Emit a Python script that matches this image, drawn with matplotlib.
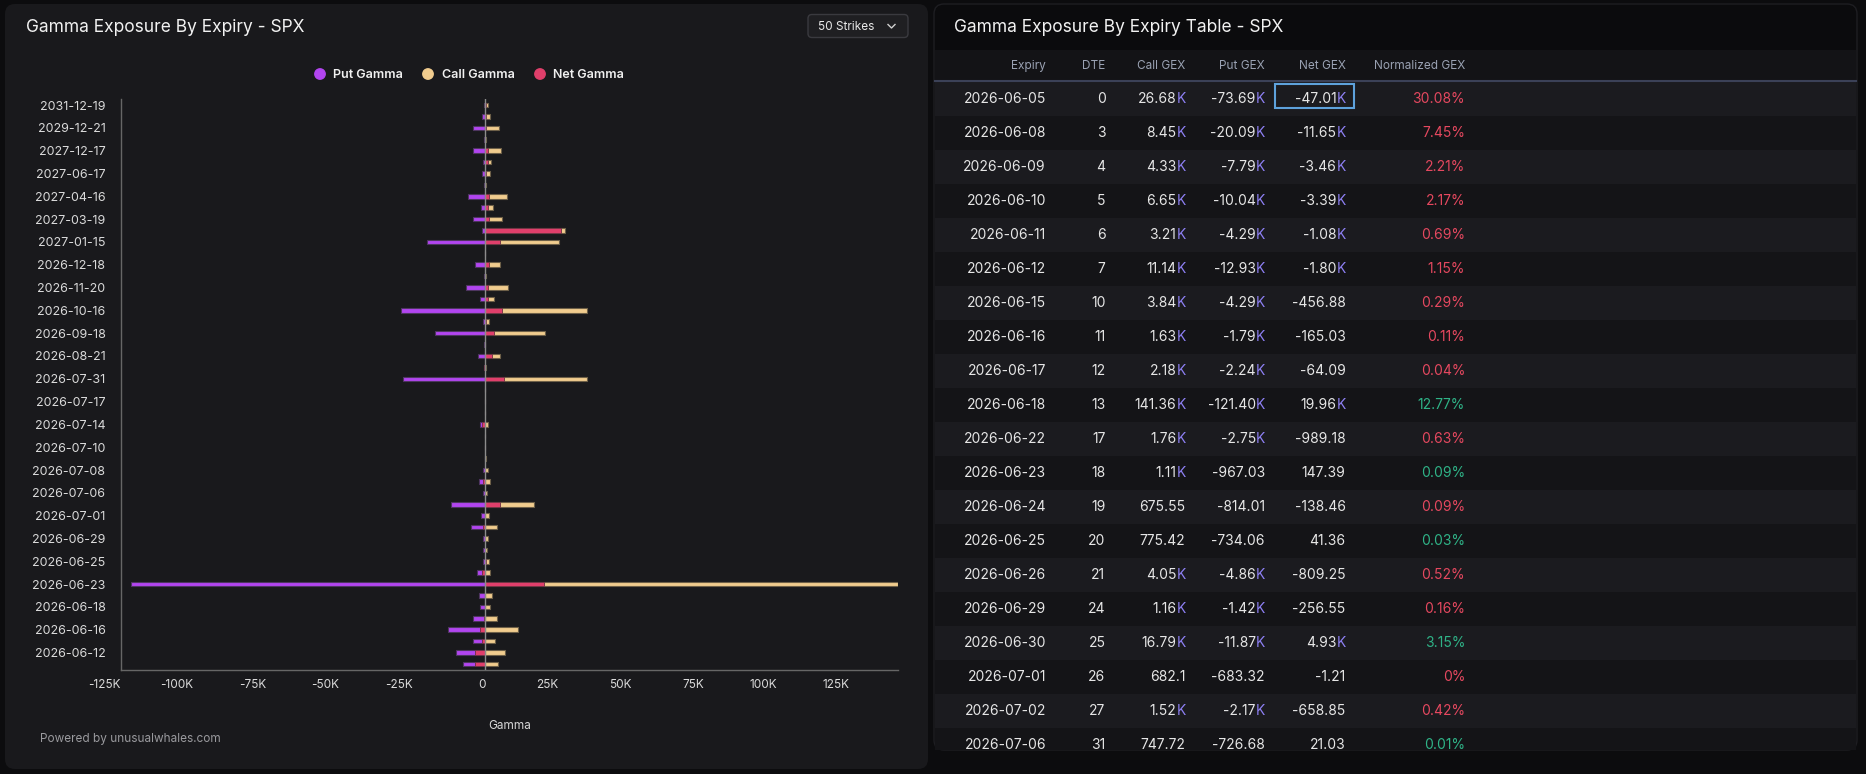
import numpy as np
import matplotlib
matplotlib.use('Agg')
import matplotlib.pyplot as plt
from matplotlib.patches import FancyBboxPatch, Circle, Rectangle
from matplotlib.ticker import FuncFormatter

plt.rcParams['font.family'] = ['Inter', 'DejaVu Sans']

# Chart data (bottom row first), values in K
expiries = ['2026-06-11', '2026-06-12', '2026-06-15', '2026-06-16', '2026-06-17',
            '2026-06-18', '2026-06-22', '2026-06-23', '2026-06-24', '2026-06-25',
            '2026-06-26', '2026-06-29', '2026-06-30', '2026-07-01', '2026-07-02',
            '2026-07-06', '2026-07-07', '2026-07-08', '2026-07-09', '2026-07-10',
            '2026-07-13', '2026-07-14', '2026-07-15', '2026-07-17', '2026-07-24',
            '2026-07-31', '2026-08-14', '2026-08-21', '2026-08-31', '2026-09-18',
            '2026-09-30', '2026-10-16', '2026-10-30', '2026-11-20', '2026-11-30',
            '2026-12-18', '2026-12-31', '2027-01-15', '2027-02-19', '2027-03-19',
            '2027-03-31', '2027-04-16', '2027-05-21', '2027-06-17', '2027-09-17',
            '2027-12-17', '2028-12-15', '2029-12-21', '2030-12-20', '2031-12-19']
put_gamma = [-7.79, -10.04, -4.29, -12.93, -4.29, -1.79, -2.24, -121.40, -2.75, -0.967,
             -0.814, -0.734, -4.86, -1.42, -11.87, -0.683, -2.17, -0.727, -0.25, -0.2,
             -0.2, -2.0, -0.2, -0.05, -0.25, -28.37, -0.5, -2.63, -0.3, -17.39,
             -0.92, -29.06, -1.94, -6.75, -0.35, -3.66, 0.0, -20.13, -1.26, -4.35,
             -1.6, -6.06, -0.35, -1.26, -0.92, -4.35, -0.3, -4.35, -1.26, -0.57]
call_gamma = [4.33, 6.65, 3.21, 11.14, 3.84, 1.63, 2.18, 141.36, 1.76, 1.11,
              0.676, 0.775, 4.05, 1.16, 16.79, 0.682, 1.52, 0.748, 0.3, 0.05,
              0.05, 0.8, 0.05, 0.0, 0.05, 34.89, 0.1, 5.03, 0.05, 20.48,
              1.26, 34.89, 2.97, 7.78, 0.1, 5.03, 0.0, 25.28, 27.3, 5.72,
              2.63, 7.44, 0.3, 1.6, 1.83, 5.38, 0.25, 4.69, 1.6, 0.92]
net_gamma = [-3.46, -3.39, -1.08, -1.80, -0.457, -0.165, -0.064, 19.96, -0.989, 0.147,
             -0.138, 0.041, -0.809, -0.257, 4.93, -0.001, -0.659, 0.021, 0.05, -0.15,
             -0.15, -1.2, -0.15, 0.0, -0.2, 6.52, -0.4, 2.4, -0.25, 3.09,
             0.34, 5.83, 1.03, 1.03, -0.25, 1.37, 0.0, 5.15, 26.04, 1.37,
             1.03, 1.38, -0.05, 0.34, 0.91, 1.03, -0.05, 0.34, 0.34, 0.35]

# Table data
tbl_expiry = ['2026-06-05', '2026-06-08', '2026-06-09', '2026-06-10', '2026-06-11',
              '2026-06-12', '2026-06-15', '2026-06-16', '2026-06-17', '2026-06-18',
              '2026-06-22', '2026-06-23', '2026-06-24', '2026-06-25', '2026-06-26',
              '2026-06-29', '2026-06-30', '2026-07-01', '2026-07-02', '2026-07-06']
tbl_dte = ['0', '3', '4', '5', '6', '7', '10', '11', '12', '13',
           '17', '18', '19', '20', '21', '24', '25', '26', '27', '31']
tbl_call = ['26.68K', '8.45K', '4.33K', '6.65K', '3.21K', '11.14K', '3.84K', '1.63K', '2.18K', '141.36K',
            '1.76K', '1.11K', '675.55', '775.42', '4.05K', '1.16K', '16.79K', '682.1', '1.52K', '747.72']
tbl_put = ['-73.69K', '-20.09K', '-7.79K', '-10.04K', '-4.29K', '-12.93K', '-4.29K', '-1.79K', '-2.24K', '-121.40K',
           '-2.75K', '-967.03', '-814.01', '-734.06', '-4.86K', '-1.42K', '-11.87K', '-683.32', '-2.17K', '-726.68']
tbl_net = ['-47.01K', '-11.65K', '-3.46K', '-3.39K', '-1.08K', '-1.80K', '-456.88', '-165.03', '-64.09', '19.96K',
           '-989.18', '147.39', '-138.46', '41.36', '-809.25', '-256.55', '4.93K', '-1.21', '-658.85', '21.03']
tbl_norm = ['30.08%', '7.45%', '2.21%', '2.17%', '0.69%', '1.15%', '0.29%', '0.11%', '0.04%', '12.77%',
            '0.63%', '0.09%', '0.09%', '0.03%', '0.52%', '0.16%', '3.15%', '0%', '0.42%', '0.01%']

PUT_C, CALL_C, NET_C = '#b245f0', '#f1cc8e', '#e03f6b'
W, H = 1866, 774

fig = plt.figure(figsize=(W / 100, H / 100), dpi=100)
fig.patch.set_facecolor('#0c0c0e')

bg = fig.add_axes([0, 0, 1, 1], zorder=0)
bg.set_xlim(0, W)
bg.set_ylim(H, 0)
bg.axis('off')

# cards
bg.add_patch(FancyBboxPatch((5, 4), 923, 765, boxstyle='round,pad=0,rounding_size=10',
                            fc='#19191c', ec='none'))
bg.add_patch(FancyBboxPatch((934, 4), 923, 746, boxstyle='round,pad=0,rounding_size=10',
                            fc='#0b0b0d', ec='#1e1e22', lw=1))

# left card header
bg.text(26, 27, 'Gamma Exposure By Expiry - SPX', fontsize=12.5, color='#f2f2f2', va='center')
bg.add_patch(FancyBboxPatch((808, 14.5), 100, 23, boxstyle='round,pad=0,rounding_size=4',
                            fc='#1f1f22', ec='#3a3a3f', lw=1))
bg.text(818, 26.5, '50 Strikes', fontsize=8.5, color='#e8e8e8', va='center')
bg.plot([888, 891.5, 895], [24.5, 28, 24.5], color='#d0d0d0', lw=1)

# legend
for cx, tx, lab, col in [(320, 333, 'Put Gamma', PUT_C), (428, 442, 'Call Gamma', CALL_C),
                          (540, 553, 'Net Gamma', NET_C)]:
    bg.add_patch(Circle((cx, 74), 5.2, color=col))
    bg.text(tx, 74.5, lab, fontsize=9, color='#f0f0f0', va='center', fontweight='semibold')

bg.text(40, 739, 'Powered by unusualwhales.com', fontsize=8.5, color='#9a9a9e', va='center')

# chart
ax = fig.add_axes([120.7 / W, 1 - 669.7 / H, (897.7 - 120.7) / W, (669.7 - 99.3) / H], zorder=1)
ax.set_facecolor('none')
y = np.arange(len(expiries))
ax.barh(y, put_gamma, height=0.4, color=PUT_C, edgecolor='#4e3560', linewidth=0.8, zorder=2)
ax.barh(y, call_gamma, height=0.4, color=CALL_C, edgecolor='#6e6048', linewidth=0.8, zorder=2)
ax.barh(y, net_gamma, height=0.4, color=NET_C, edgecolor='#6a3040', linewidth=0.6, zorder=2.5)
ax.axvline(0, color='#8c8c8c', lw=1, zorder=3)
ax.set_ylim(-0.5, len(expiries) - 0.5)
ax.set_xlim(-125, max(call_gamma))
ax.set_yticks(y[1::2])
ax.set_yticklabels(expiries[1::2])
ax.set_xticks(np.arange(-125, 126, 25))
ax.xaxis.set_major_formatter(FuncFormatter(lambda v, p: '0' if v == 0 else f'{int(v)}K'))
for lab in ax.get_xticklabels():
    lab.set_ha('right')
ax.tick_params(axis='both', length=0, colors='#dadada')
ax.tick_params(axis='y', pad=11, labelsize=9)
ax.tick_params(axis='x', pad=7, labelsize=8.5)
for s in ['top', 'right']:
    ax.spines[s].set_visible(False)
for s in ['left', 'bottom']:
    ax.spines[s].set_color('#666666')
    ax.spines[s].set_linewidth(1)
ax.set_xlabel('Gamma', fontsize=8.5, color='#d8d8d8')
ax.xaxis.set_label_coords(0.5, -0.099)
ax.xaxis.label.set_va('center')

# table
bg.text(954, 27, 'Gamma Exposure By Expiry Table - SPX', fontsize=12.5, color='#f2f2f2', va='center')
bg.add_patch(Rectangle((935, 50), 921, 31, fc='#131316', ec='none'))
clip = Rectangle((934, 4), 923, 746, transform=bg.transData)
row_h = 34
for i in range(len(tbl_expiry)):
    top = 82 + row_h * i
    h = min(row_h, 750 - top)
    bg.add_patch(Rectangle((935, top), 921, h, fc='#1b1b1f' if i % 2 == 0 else '#141417', ec='none'))
bg.plot([935, 1856], [81, 81], color='#3b4157', lw=1.5)

cols_x = [1046, 1105.5, 1185.5, 1265, 1345.5, 1465]
headers = ['Expiry', 'DTE', 'Call GEX', 'Put GEX', 'Net GEX', 'Normalized GEX']
for cx, htxt in zip(cols_x, headers):
    bg.text(cx, 66, htxt, fontsize=8.5, color='#9aa2b3', ha='right', va='center')

# width of the purple "K" suffix, measured once
fig.canvas.draw()
renderer = fig.canvas.get_renderer()
probe = bg.text(W / 2, H / 2, 'K', fontsize=10)
kw = probe.get_window_extent(renderer).width
probe.remove()

def put_cell(x, yc, s, color='#e6e6e6'):
    if s.endswith('K'):
        t1 = bg.text(x, yc, 'K', fontsize=10, color='#8d7ff2', ha='right', va='center')
        t2 = bg.text(x - kw, yc, s[:-1], fontsize=10, color=color, ha='right', va='center')
        for t in (t1, t2):
            t.set_clip_path(clip)
    else:
        t = bg.text(x, yc, s, fontsize=10, color=color, ha='right', va='center')
        t.set_clip_path(clip)

for i in range(len(tbl_expiry)):
    yc = 82 + row_h * i + row_h / 2
    put_cell(cols_x[0], yc, tbl_expiry[i])
    put_cell(cols_x[1], yc, tbl_dte[i])
    put_cell(cols_x[2], yc, tbl_call[i])
    put_cell(cols_x[3], yc, tbl_put[i])
    put_cell(cols_x[4], yc, tbl_net[i])
    ncol = '#e5485f' if tbl_net[i].startswith('-') else '#2fb387'
    put_cell(cols_x[5], yc, tbl_norm[i], color=ncol)

bg.add_patch(Rectangle((1275, 83.5), 79, 24, fill=False, ec='#5ea2dc', lw=1.5))

fig.savefig('out.png', dpi=100, facecolor=fig.get_facecolor())
